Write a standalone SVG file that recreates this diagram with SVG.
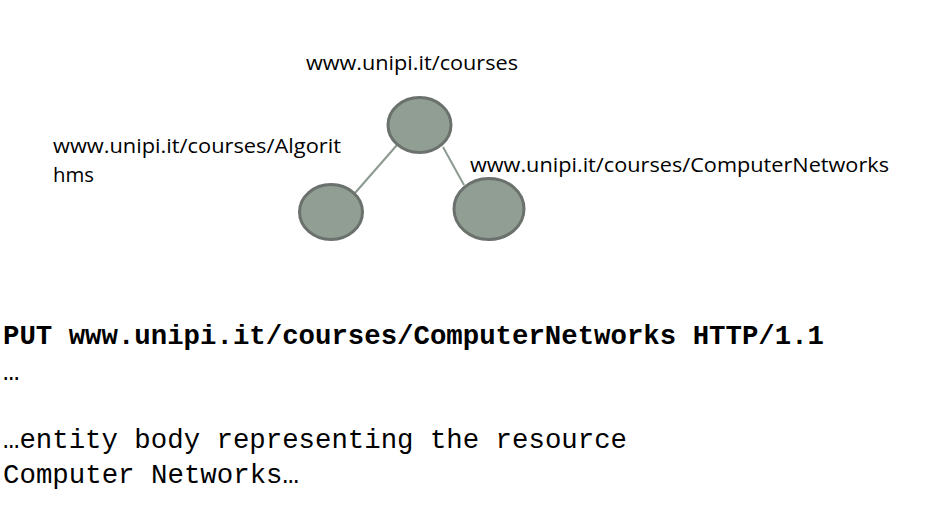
<svg xmlns="http://www.w3.org/2000/svg" width="928" height="514" viewBox="0 0 928 514">
<style>
.node{fill:#919e93;stroke:#6b716c;stroke-width:3}
.edge{stroke:#8d9a90;stroke-width:2;fill:none}
.lbl{font-family:"Open Sans","Liberation Sans",sans-serif;font-size:20px;fill:#000}
.mono{font-family:"Liberation Mono","Courier New",monospace;font-size:27.3px;fill:#000}
.b{font-weight:bold}
</style>
<rect width="928" height="514" fill="#fff"/>
<g id="connectors">
<line class="edge" x1="355" y1="193" x2="397" y2="145"/>
<line class="edge" x1="443" y1="147" x2="464" y2="185"/>
</g>
<g id="n-courses">
<ellipse class="node" cx="419.5" cy="125" rx="31.5" ry="27.5"/>
<text class="lbl" x="306" y="70" textLength="212" lengthAdjust="spacingAndGlyphs">www.unipi.it/courses</text>
</g>
<g id="n-algorithms">
<ellipse class="node" cx="331" cy="212" rx="31.5" ry="27.5"/>
<text class="lbl" x="53" y="153" textLength="288" lengthAdjust="spacingAndGlyphs">www.unipi.it/courses/Algorit</text>
<text class="lbl" x="53" y="182" textLength="41" lengthAdjust="spacingAndGlyphs">hms</text>
</g>
<g id="n-networks">
<ellipse class="node" cx="489" cy="209" rx="35" ry="30.5"/>
<text class="lbl" x="470" y="172" textLength="419" lengthAdjust="spacingAndGlyphs">www.unipi.it/courses/ComputerNetworks</text>
</g>
<g id="request">
<text class="mono b" x="3" y="344" textLength="821" lengthAdjust="spacingAndGlyphs">PUT www.unipi.it/courses/ComputerNetworks HTTP/1.1</text>
<text class="mono" x="3" y="380">…</text>
<text class="mono" x="3" y="448" textLength="624" lengthAdjust="spacingAndGlyphs">…entity body representing the resource</text>
<text class="mono" x="3" y="483" textLength="296" lengthAdjust="spacingAndGlyphs">Computer Networks…</text>
</g>
</svg>
